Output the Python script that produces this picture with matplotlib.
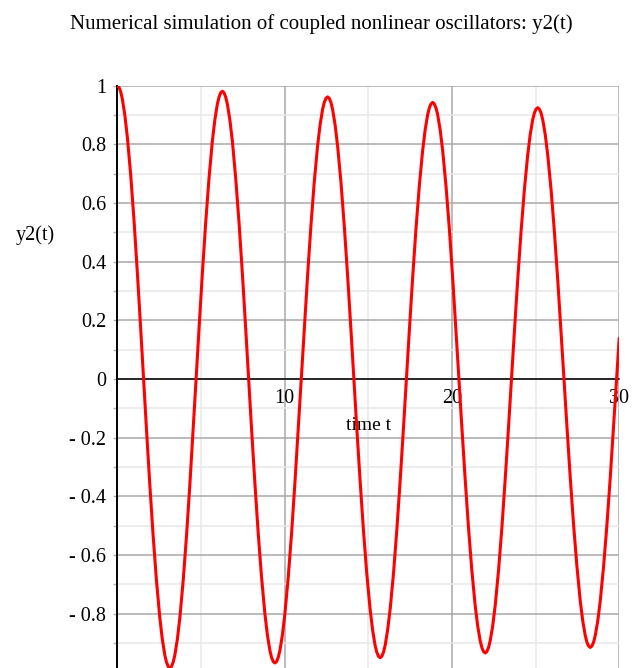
import matplotlib
matplotlib.use("Agg")
import matplotlib.pyplot as plt
from matplotlib.ticker import MultipleLocator, FixedLocator

plt.rcParams["font.family"] = ["Liberation Serif", "DejaVu Serif"]

# y2(t): dense around each peak / trough,
# sparser along the steep flanks, plus each zero crossing
t = [
    0.00, 0.10, 0.20, 0.30, 0.45, 0.60, 0.80, 1.00, 1.20, 1.40, 1.57,
    1.74, 1.94, 2.14, 2.34, 2.54, 2.69, 2.84, 2.94, 3.04, 3.14,
    3.24, 3.34, 3.44, 3.59, 3.74, 3.94, 4.14, 4.34, 4.54, 4.71,
    4.88, 5.08, 5.28, 5.48, 5.68, 5.83, 5.98, 6.08, 6.18, 6.28,
    6.38, 6.48, 6.58, 6.73, 6.88, 7.08, 7.28, 7.48, 7.68, 7.85,
    8.02, 8.22, 8.42, 8.62, 8.82, 8.97, 9.12, 9.22, 9.32, 9.42,
    9.52, 9.62, 9.72, 9.87, 10.02, 10.22, 10.42, 10.62, 10.82, 11.00,
    11.17, 11.37, 11.57, 11.77, 11.97, 12.12, 12.27, 12.37, 12.47, 12.57,
    12.67, 12.77, 12.87, 13.02, 13.17, 13.37, 13.57, 13.77, 13.97, 14.14,
    14.31, 14.51, 14.71, 14.91, 15.11, 15.26, 15.41, 15.51, 15.61, 15.71,
    15.81, 15.91, 16.01, 16.16, 16.31, 16.51, 16.71, 16.91, 17.11, 17.28,
    17.45, 17.65, 17.85, 18.05, 18.25, 18.40, 18.55, 18.65, 18.75, 18.85,
    18.95, 19.05, 19.15, 19.30, 19.45, 19.65, 19.85, 20.05, 20.25, 20.42,
    20.59, 20.79, 20.99, 21.19, 21.39, 21.54, 21.69, 21.79, 21.89, 21.99,
    22.09, 22.19, 22.29, 22.44, 22.59, 22.79, 22.99, 23.19, 23.39, 23.56,
    23.73, 23.93, 24.13, 24.33, 24.53, 24.68, 24.83, 24.93, 25.03, 25.13,
    25.23, 25.33, 25.43, 25.58, 25.73, 25.93, 26.13, 26.33, 26.53, 26.70,
    26.87, 27.07, 27.27, 27.47, 27.67, 27.82, 27.97, 28.07, 28.17, 28.27,
    28.37, 28.47, 28.57, 28.72, 28.87, 29.07, 29.27, 29.47, 29.67, 29.85,
    30.00,
]
y2 = [
    1.000, 0.995, 0.980, 0.955, 0.900, 0.825, 0.697, 0.540, 0.362, 0.170, 0.000,
    -0.167, -0.357, -0.532, -0.686, -0.813, -0.887, -0.941, -0.965, -0.980, -0.985,
    -0.980, -0.965, -0.941, -0.887, -0.813, -0.686, -0.532, -0.357, -0.167, 0.000,
    0.167, 0.356, 0.530, 0.683, 0.810, 0.883, 0.937, 0.961, 0.976, 0.981,
    0.976, 0.961, 0.937, 0.883, 0.810, 0.683, 0.530, 0.356, 0.167, 0.000,
    -0.165, -0.351, -0.523, -0.674, -0.799, -0.872, -0.925, -0.949, -0.963, -0.968,
    -0.963, -0.949, -0.925, -0.872, -0.799, -0.674, -0.523, -0.351, -0.165, 0.000,
    0.164, 0.349, 0.520, 0.670, 0.794, 0.866, 0.919, 0.943, 0.957, 0.962,
    0.957, 0.943, 0.919, 0.866, 0.794, 0.670, 0.520, 0.349, 0.164, 0.000,
    -0.162, -0.344, -0.513, -0.662, -0.784, -0.855, -0.908, -0.931, -0.945, -0.950,
    -0.945, -0.931, -0.908, -0.855, -0.784, -0.662, -0.513, -0.344, -0.162, 0.000,
    0.160, 0.342, 0.510, 0.657, 0.778, 0.849, 0.901, 0.924, 0.938, 0.943,
    0.938, 0.924, 0.901, 0.849, 0.778, 0.657, 0.510, 0.342, 0.160, 0.000,
    -0.159, -0.338, -0.505, -0.651, -0.771, -0.841, -0.892, -0.915, -0.929, -0.934,
    -0.929, -0.915, -0.892, -0.841, -0.771, -0.651, -0.505, -0.338, -0.159, 0.000,
    0.157, 0.335, 0.500, 0.644, 0.763, 0.833, 0.884, 0.907, 0.920, 0.925,
    0.920, 0.907, 0.884, 0.833, 0.763, 0.644, 0.500, 0.335, 0.157, 0.000,
    -0.156, -0.332, -0.494, -0.637, -0.755, -0.824, -0.874, -0.897, -0.910, -0.915,
    -0.910, -0.897, -0.874, -0.824, -0.755, -0.637, -0.494, -0.332, -0.156, 0.000,
    0.139,
]

xticks = [10, 20, 30]
yticks = [-0.8, -0.6, -0.4, -0.2, 0, 0.2, 0.4, 0.6, 0.8, 1]
ytick_labels = ["- 0.8", "- 0.6", "- 0.4", "- 0.2", "0", "0.2", "0.4", "0.6", "0.8", "1"]

W, H = 632, 668
fig = plt.figure(figsize=(W / 100, H / 100), dpi=100)
x0, x1, ytop = 117.3, 619.2, 85.7
ax = fig.add_axes([x0 / W, 0, (x1 - x0) / W, (H - ytop) / H])

ax.plot(t, y2, color="#ff0000", lw=2.2, zorder=5,
        solid_joinstyle="round", solid_capstyle="round")

ax.set_xlim(0, 30)
ax.set_ylim(-0.985, 1)

ax.xaxis.set_major_locator(FixedLocator(xticks))
ax.xaxis.set_minor_locator(MultipleLocator(5))
ax.set_yticks(yticks)
ax.set_yticklabels(ytick_labels)
ax.yaxis.set_minor_locator(MultipleLocator(0.1))

ax.grid(which="major", color="#a8a8a8", lw=1.1)
ax.grid(which="minor", color="#e8e8e8", lw=1.1)
ax.set_axisbelow(True)

for s in ["top", "right"]:
    ax.spines[s].set_visible(False)
ax.spines["left"].set_color("black")
ax.spines["left"].set_linewidth(1.4)
ax.spines["bottom"].set_position(("data", 0))
ax.spines["bottom"].set_linewidth(1.1)
ax.spines["bottom"].set_zorder(4)

ax.tick_params(axis="y", which="both", direction="out", length=3, width=1,
               color="#b0b0b0", pad=5, labelsize=14.5)
ax.tick_params(axis="x", which="both", length=0, pad=7, labelsize=14.5)

ax.text(15, -0.16, "time t", ha="center", va="center", fontsize=14)
fig.text(35 / W, 1 - 235 / H, "y2(t)", ha="center", va="center", fontsize=14.5)
fig.text(321.5 / W, 1 - 29 / H, "Numerical simulation of coupled nonlinear oscillators: y2(t)",
         ha="center", va="baseline", fontsize=15)

fig.savefig("out.png", dpi=100)
